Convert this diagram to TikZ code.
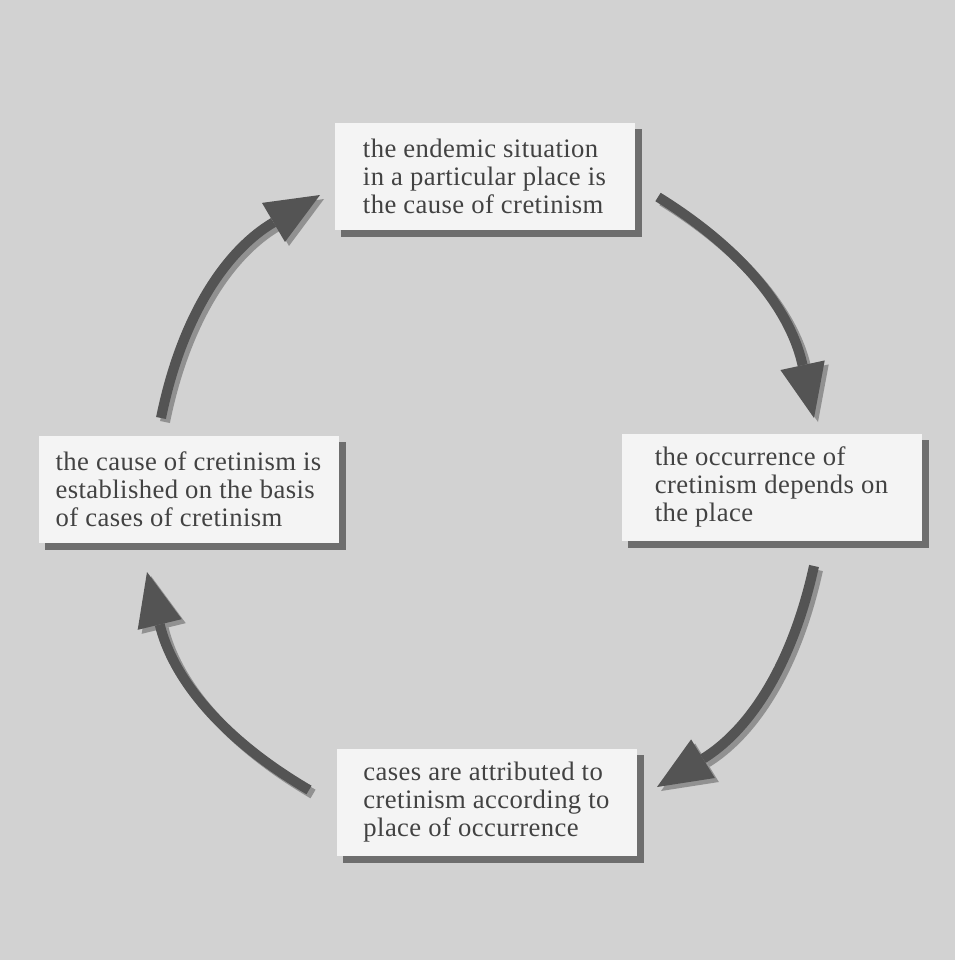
\documentclass[tikz,border=0pt]{standalone}
\usepackage{fontspec}
\setmainfont[LetterSpace=1.5]{Liberation Serif}
\usetikzlibrary{arrows.meta,backgrounds}

\definecolor{pagegray}{RGB}{210,210,210}
\definecolor{boxwhite}{RGB}{244,244,244}
\definecolor{boxshadow}{RGB}{110,110,110}
\definecolor{arrowdark}{RGB}{84,84,84}
\definecolor{arrowshade}{RGB}{145,145,145}
\definecolor{textgray}{RGB}{66,66,66}

\tikzset{every picture/.style={line width=0.75pt}}
\tikzset{
  cyclebox/.style={fill=boxwhite, anchor=north west, minimum width=225pt, minimum height=80.25pt,
    inner sep=0pt, align=left, text=textgray, font=\fontsize{20}{21}\selectfont},
  cyclearrow/.style={draw=arrowdark, line width=7.5pt,
    -{Triangle[length=40.5pt,width=34pt,line width=0pt]}},
  cycleshade/.style={cyclearrow, draw=arrowshade, transform canvas={shift={(3pt,-3pt)}}}
}

\begin{document}
\begin{tikzpicture}[x=0.75pt,y=0.75pt,yscale=-1,xscale=1]

% Text Node
\node [cyclebox] (endemic) at (334,122)
  {the endemic situation\\in a particular place is\\the cause of cretinism};
% Text Node
\node [cyclebox] (occurrence) at (621,433)
  {the occurrence of\\cretinism depends on\\the place};
% Text Node
\node [cyclebox] (attributed) at (336,748)
  {cases are attributed to\\cretinism according to\\place of occurrence};
% Text Node
\node [cyclebox] (established) at (38,435)
  {the cause of cretinism is\\established on the basis\\of cases of cretinism};

% page and box shadows
\begin{scope}[on background layer]
\fill [pagegray] (0,0) rectangle (955,960);
\foreach \n in {endemic,occurrence,attributed,established}
  \fill [boxshadow] ([shift={(7,7)}]\n.north west) rectangle ([shift={(7,7)}]\n.south east);
\end{scope}

% arrow ends
\coordinate (ne tail) at (658,197);
\coordinate (ne tip) at (814,418);
\coordinate (se tail) at (814,566);
\coordinate (se tip) at (657,787);
\coordinate (sw tail) at (309,790);
\coordinate (sw tip) at (147,572);
\coordinate (nw tail) at (161,418);
\coordinate (nw tip) at (320,195);

%Curve Lines
\draw [cycleshade] (ne tail) to [bend right=23] (ne tip);
\draw [cyclearrow] (ne tail) to [bend right=23] (ne tip);
%Curve Lines
\draw [cycleshade] (se tail) to [bend right=23] (se tip);
\draw [cyclearrow] (se tail) to [bend right=23] (se tip);
%Curve Lines
\draw [cycleshade] (sw tail) to [bend right=23] (sw tip);
\draw [cyclearrow] (sw tail) to [bend right=23] (sw tip);
%Curve Lines
\draw [cycleshade] (nw tail) to [bend right=24] (nw tip);
\draw [cyclearrow] (nw tail) to [bend right=24] (nw tip);

\end{tikzpicture}
\end{document}
